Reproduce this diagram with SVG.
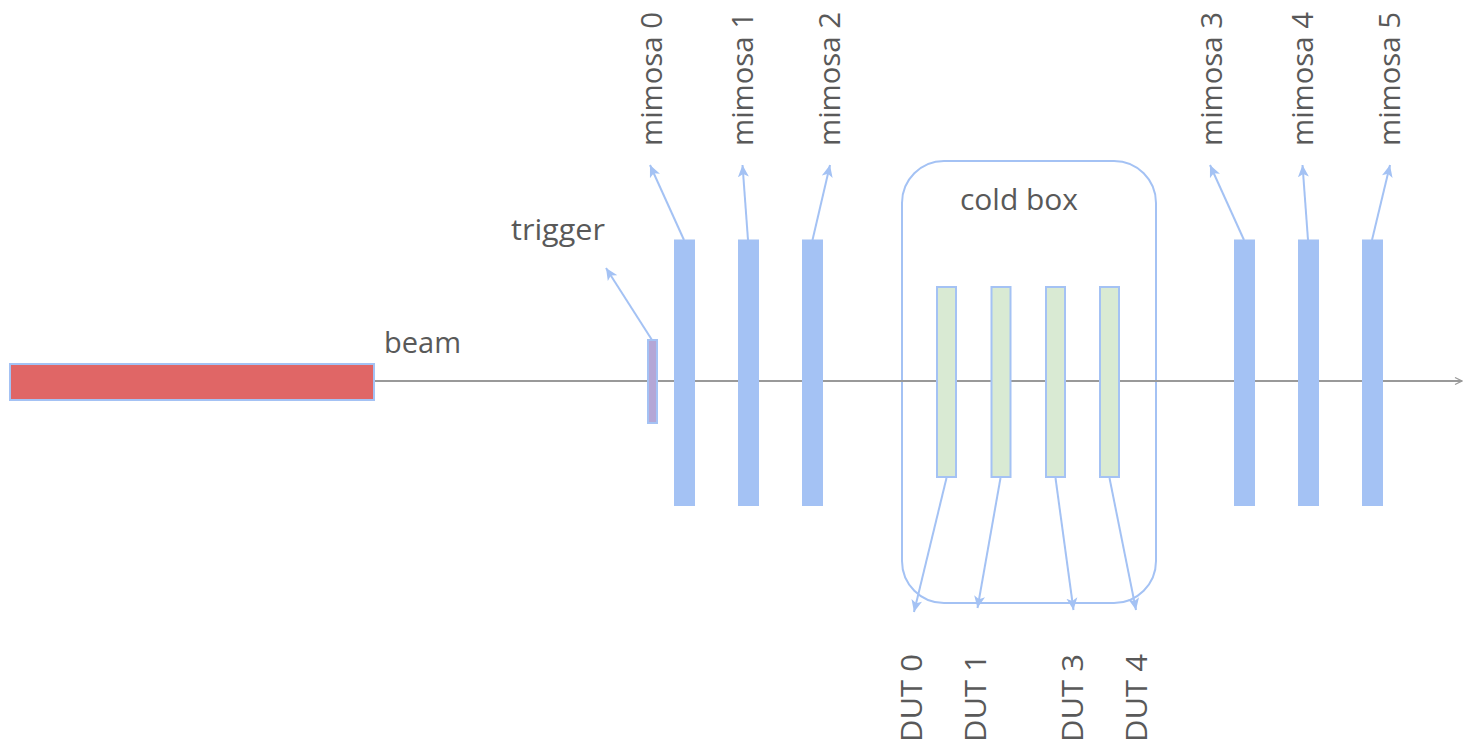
<svg xmlns="http://www.w3.org/2000/svg" width="1463" height="744" viewBox="0 0 1463 744">
<style>
.t{font-family:"Open Sans","Liberation Sans",sans-serif;font-size:28.5px;fill:#595959}
.mim{fill:#a4c2f4}
.dut{fill:#d9ead3;stroke:#a4c2f4;stroke-width:2}
.c{stroke:#a4c2f4;stroke-width:2;fill:none;marker-end:url(#ah)}
</style>
<defs>
<marker id="ah" markerUnits="userSpaceOnUse" markerWidth="14" markerHeight="12" refX="12" refY="6" orient="auto">
<path d="M0,0.5 L12,6 L0,11.5 L3,6 Z" fill="#a4c2f4"/>
</marker>
<marker id="ahg" markerUnits="userSpaceOnUse" markerWidth="10" markerHeight="10" refX="8" refY="5" orient="auto">
<path d="M1,1.5 L8,5 L1,8.5" fill="none" stroke="#999999" stroke-width="1.2"/>
</marker>
</defs>
<rect width="1463" height="744" fill="#ffffff"/>
<g id="coldbox">
<rect x="902" y="161" width="254" height="442" rx="42" ry="42" fill="none" stroke="#a4c2f4" stroke-width="2"/>
<text class="t" x="960" y="210" textLength="118" lengthAdjust="spacingAndGlyphs">cold box</text>
</g>
<g id="connectors">
<line x1="374" y1="381" x2="1462" y2="381" stroke="#999999" stroke-width="2" marker-end="url(#ahg)"/>
<line class="c" x1="652" y1="340" x2="606" y2="268"/>
<line class="c" x1="684" y1="240" x2="650" y2="165"/>
<line class="c" x1="748" y1="240" x2="742.5" y2="165"/>
<line class="c" x1="812.5" y1="240" x2="830" y2="165"/>
<line class="c" x1="1244" y1="240" x2="1210" y2="165"/>
<line class="c" x1="1308" y1="240" x2="1302.5" y2="165"/>
<line class="c" x1="1372" y1="240" x2="1390" y2="165"/>
<line class="c" x1="946.5" y1="478" x2="914" y2="612"/>
<line class="c" x1="1000.5" y1="478" x2="977.5" y2="608"/>
<line class="c" x1="1055.5" y1="478" x2="1073.5" y2="610"/>
<line class="c" x1="1109.5" y1="478" x2="1136" y2="610"/>
</g>
<g id="beam">
<rect x="10" y="364" width="364" height="36" fill="#e06666" stroke="#a4c2f4" stroke-width="2"/>
<text class="t" x="384" y="353" textLength="77" lengthAdjust="spacingAndGlyphs">beam</text>
</g>
<g id="trigger">
<rect x="648" y="340" width="9" height="83" fill="#b4a7d6" stroke="#a4c2f4" stroke-width="2"/>
<text class="t" x="511" y="240" textLength="94" lengthAdjust="spacingAndGlyphs">trigger</text>
</g>
<g id="mimosa0"><rect class="mim" x="674" y="239.5" width="21" height="266.5"/><text class="t" transform="translate(662,146) rotate(-90)" textLength="134" lengthAdjust="spacingAndGlyphs">mimosa 0</text></g>
<g id="mimosa1"><rect class="mim" x="738" y="239.5" width="21" height="266.5"/><text class="t" transform="translate(753,146) rotate(-90)" textLength="134" lengthAdjust="spacingAndGlyphs">mimosa 1</text></g>
<g id="mimosa2"><rect class="mim" x="802" y="239.5" width="21" height="266.5"/><text class="t" transform="translate(840,146) rotate(-90)" textLength="134" lengthAdjust="spacingAndGlyphs">mimosa 2</text></g>
<g id="mimosa3"><rect class="mim" x="1234" y="239.5" width="21" height="266.5"/><text class="t" transform="translate(1222,146) rotate(-90)" textLength="134" lengthAdjust="spacingAndGlyphs">mimosa 3</text></g>
<g id="mimosa4"><rect class="mim" x="1298" y="239.5" width="21" height="266.5"/><text class="t" transform="translate(1313,146) rotate(-90)" textLength="134" lengthAdjust="spacingAndGlyphs">mimosa 4</text></g>
<g id="mimosa5"><rect class="mim" x="1362" y="239.5" width="21" height="266.5"/><text class="t" transform="translate(1400,146) rotate(-90)" textLength="134" lengthAdjust="spacingAndGlyphs">mimosa 5</text></g>
<g id="dut0"><rect class="dut" x="937" y="287" width="19" height="190"/><text class="t" transform="translate(922,742) rotate(-90)" textLength="88" lengthAdjust="spacingAndGlyphs">DUT 0</text></g>
<g id="dut1"><rect class="dut" x="991.5" y="287" width="19" height="190"/><text class="t" transform="translate(986,742) rotate(-90)" textLength="88" lengthAdjust="spacingAndGlyphs">DUT 1</text></g>
<g id="dut3"><rect class="dut" x="1046" y="287" width="19" height="190"/><text class="t" transform="translate(1083,742) rotate(-90)" textLength="88" lengthAdjust="spacingAndGlyphs">DUT 3</text></g>
<g id="dut4"><rect class="dut" x="1100" y="287" width="19" height="190"/><text class="t" transform="translate(1147,742) rotate(-90)" textLength="88" lengthAdjust="spacingAndGlyphs">DUT 4</text></g>
</svg>
